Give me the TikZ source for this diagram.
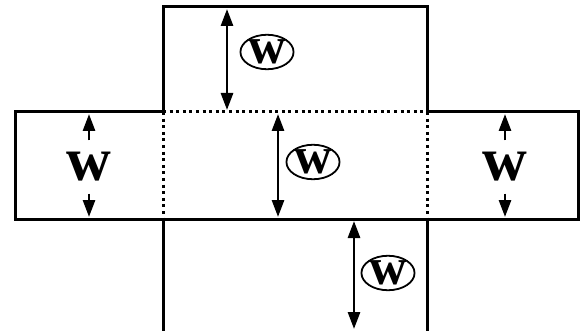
\documentclass[tikz,border=0pt]{standalone}
\usepackage{fontspec}
\setmainfont{Liberation Serif}
\usetikzlibrary{arrows.meta,shapes.geometric}

\begin{document}
\begin{tikzpicture}[
        x=1pt,y=-1pt,
        wall/.style={line width=3pt,line join=miter},
        fold/.style={line width=3pt,dash pattern=on 3pt off 3.6pt},
        dimline/.style={line width=2.8pt,-{Triangle[length=17pt,width=12pt]}},
        dimboth/.style={line width=2.8pt,{Triangle[length=17pt,width=12pt]}-{Triangle[length=17pt,width=12pt]}},
        wlbl/.style={inner sep=0pt,font=\fontsize{62}{62}\selectfont\bfseries},
        cwlbl/.style={ellipse,draw,line width=1.8pt,inner sep=0pt,
            minimum width=51pt,minimum height=34pt,
            font=\fontsize{52}{52}\selectfont\bfseries}
        ]
        \useasboundingbox (0,0) rectangle (583,331);

        % corners of the cross
        \coordinate (t1) at (163,7);
        \coordinate (t2) at (427,7);
        \coordinate (m1) at (15,112);
        \coordinate (m2) at (163,112);
        \coordinate (m3) at (427,112);
        \coordinate (m4) at (578,112);
        \coordinate (b1) at (15,219);
        \coordinate (b2) at (163,219);
        \coordinate (b3) at (427,219);
        \coordinate (b4) at (578,219);
        \coordinate (e1) at (163,336);
        \coordinate (e2) at (427,336);

        % outline
        \draw[wall] (m2) -- (t1) -- (t2) -- (m3);
        \draw[wall] (m2) -- (m1) -- (b1) -- (b4) -- (m4) -- (m3);
        \draw[wall] (b2) -- (e1);
        \draw[wall] (b3) -- (e2);

        % folds
        \draw[fold] (m2) -- (m3);
        \draw[fold] (m2) -- (b2);
        \draw[fold] (m3) -- (b3);

        % labels
        \node[cwlbl] (wtop) at (267,52) {w};
        \node[cwlbl] (wmid) at (313,162) {w};
        \node[cwlbl] (wbot) at (388,273) {w};
        \node[wlbl] (wleft) at (89,167) {w};
        \node[wlbl] (wright) at (505,167) {w};

        % dimension ends
        \coordinate (a1) at (227,9);
        \coordinate (a2) at (227,110);
        \coordinate (c1) at (278,114);
        \coordinate (c2) at (278,217);
        \coordinate (d1) at (354,221);
        \coordinate (d2) at (354,329);
        \coordinate (l1) at (89,114);
        \coordinate (l2) at (89,217);
        \coordinate (r1) at (505,114);
        \coordinate (r2) at (505,217);

        % dimensions
        \draw[dimboth] (a1) -- (a2);
        \draw[dimboth] (c1) -- (c2);
        \draw[dimboth] (d1) -- (d2);
        \draw[dimline] ([yshift=12pt]wleft.north) -- (l1);
        \draw[dimline] ([yshift=-12pt]wleft.south) -- (l2);
        \draw[dimline] ([yshift=12pt]wright.north) -- (r1);
        \draw[dimline] ([yshift=-12pt]wright.south) -- (r2);
    \end{tikzpicture}
\end{document}
